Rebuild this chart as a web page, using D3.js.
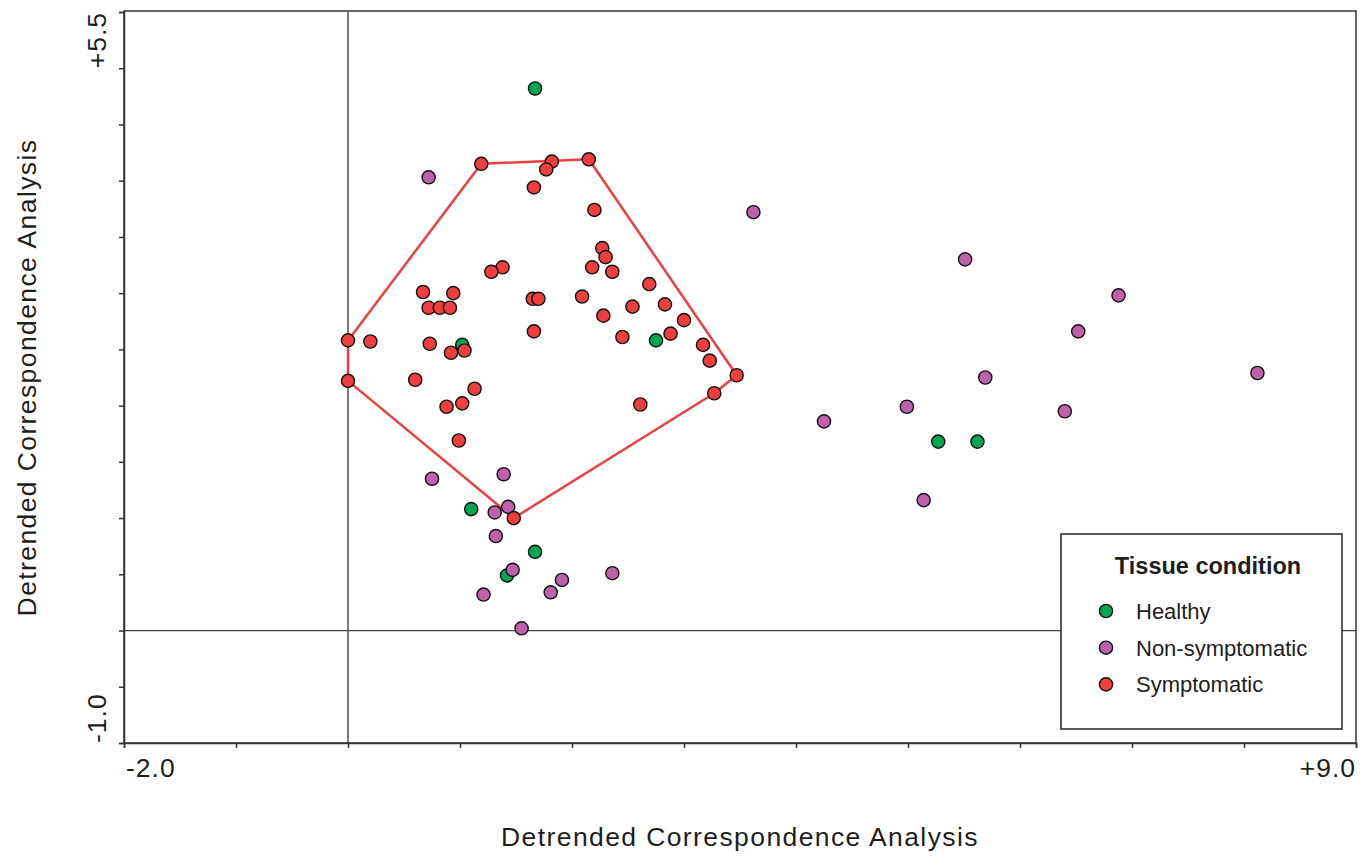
<!DOCTYPE html>
<html>
<head>
<meta charset="utf-8">
<script src="https://cdn.jsdelivr.net/npm/d3@7"></script>
<style>
  body { margin:0; background:#fff; }
  svg text { font-family: "Liberation Sans", Arial, sans-serif; fill:#1e1e1e; }
</style>
</head>
<body>
<svg id="chart" width="1360" height="857"></svg>
<script>
// DCA scores
var healthy = [
  [1.67,4.82],[1.02,2.54],[2.75,2.58],[1.10,1.08],[1.67,0.70],[1.42,0.49],[5.27,1.68],[5.62,1.68]
];
var nonSymptomatic = [
  [0.72,4.03],[0.75,1.35],[1.39,1.39],[1.31,1.05],[1.43,1.10],[1.32,0.84],[1.47,0.54],[1.91,0.45],
  [2.36,0.51],[1.21,0.32],[1.81,0.34],[1.55,0.02],[3.62,3.72],[5.51,3.30],[6.88,2.98],[6.52,2.66],
  [5.69,2.25],[8.12,2.29],[4.99,1.99],[4.25,1.86],[6.40,1.95],[5.14,1.16]
];
var symptomatic = [
  [1.19,4.15],[1.82,4.17],[1.77,4.10],[2.15,4.19],[1.66,3.94],[2.20,3.74],[2.27,3.40],[2.30,3.32],
  [2.18,3.23],[2.36,3.19],[1.38,3.23],[1.28,3.19],[0.67,3.01],[0.94,3.00],[0.72,2.87],[0.82,2.87],
  [0.91,2.87],[1.65,2.95],[1.70,2.95],[2.09,2.97],[2.28,2.80],[2.54,2.88],[1.66,2.66],[2.45,2.61],
  [0.00,2.58],[0.20,2.57],[0.73,2.55],[1.04,2.49],[0.92,2.47],[0.00,2.22],[0.60,2.23],[1.13,2.15],
  [0.88,1.99],[1.02,2.02],[0.99,1.69],[1.48,1.00],[2.69,3.08],[2.83,2.90],[3.00,2.76],[2.88,2.64],
  [3.17,2.54],[3.23,2.40],[3.47,2.27],[3.27,2.11],[2.61,2.01]
];
var groups = ["Healthy","Non-symptomatic","Symptomatic"];
var groupColors = ["#00a651","#bd62aa","#ee3e3e"];
var xTicks = [-2,-1,0,1,2,3,4,5,6,7,8,9];
var yTicks = [-1,-0.5,0,0.5,1,1.5,2,2.5,3,3.5,4,4.5,5,5.5];
var xTickLabels = ["-2.0","+9.0"];
var yTickLabels = ["-1.0","+5.5"];
var axisTitle = "Detrended Correspondence Analysis";
var legendTitle = "Tissue condition";

var svg = d3.select("#chart");
var plotL = 124, plotR = 1356, plotT = 12, plotB = 743;

var x = d3.scaleLinear().domain([-2, 9]).range([plotL, plotR]);
var y = d3.scaleLinear().domain([-1, 5.5]).range([plotB, plotT]);

// zero reference lines
svg.append("line").attr("x1", x(0)).attr("x2", x(0)).attr("y1", plotT).attr("y2", plotB)
  .attr("stroke", "#222").attr("stroke-width", 1.2);
svg.append("line").attr("x1", plotL).attr("x2", plotR).attr("y1", y(0)).attr("y2", y(0))
  .attr("stroke", "#444").attr("stroke-width", 1.2);

// frame
svg.append("rect").attr("x", plotL).attr("y", plotT - 1).attr("width", plotR - plotL).attr("height", plotB - plotT + 1)
  .attr("fill", "none").attr("stroke", "#333").attr("stroke-width", 1.5);

var xAxis = svg.append("g").attr("transform", "translate(0," + plotB + ")")
  .call(d3.axisBottom(x).tickValues(xTicks).tickSize(5).tickFormat(""));
var yAxis = svg.append("g").attr("transform", "translate(" + plotL + ",0)")
  .call(d3.axisLeft(y).tickValues(yTicks).tickSize(5).tickFormat(""));
[xAxis, yAxis].forEach(function(a){
  a.selectAll("path,line").attr("stroke", "#333").attr("stroke-width", 1.5);
});

// end labels only
svg.append("text").attr("x", x(-2) + 2).attr("y", 777).attr("font-size", 26.5)
  .attr("letter-spacing", 1).text(xTickLabels[0]);
svg.append("text").attr("x", x(9)).attr("y", 777).attr("font-size", 26.5).attr("text-anchor", "end")
  .attr("letter-spacing", 1).text(xTickLabels[1]);
svg.append("text").attr("transform", "translate(106," + y(-1) + ") rotate(-90)")
  .attr("font-size", 26.5).attr("letter-spacing", 1).text(yTickLabels[0]);
svg.append("text").attr("transform", "translate(106," + y(5.5) + ") rotate(-90)")
  .attr("font-size", 26.5).attr("text-anchor", "end").attr("letter-spacing", 1).text(yTickLabels[1]);

// axis titles
svg.append("text").attr("x", (plotL + plotR) / 2).attr("y", 846).attr("text-anchor", "middle")
  .attr("font-size", 26.5).attr("letter-spacing", 1.4).text(axisTitle);
svg.append("text").attr("transform", "translate(36," + ((plotT + plotB) / 2) + ") rotate(-90)")
  .attr("text-anchor", "middle").attr("font-size", 26.5).attr("letter-spacing", 1.4).text(axisTitle);

// convex hull around symptomatic samples
var hull = d3.polygonHull(symptomatic.map(function(d){ return [x(d[0]), y(d[1])]; }));
svg.append("path").attr("d", "M" + hull.join("L") + "Z")
  .attr("fill", "none").attr("stroke", "#ee3e3e").attr("stroke-width", 2.5)
  .attr("stroke-linejoin", "round");

var series = [healthy, nonSymptomatic, symptomatic];
series.forEach(function(data, i){
  svg.append("g").selectAll("circle")
    .data(data)
    .enter()
    .append("circle")
    .attr("cx", function(d){ return x(d[0]); })
    .attr("cy", function(d){ return y(d[1]); })
    .attr("r", 6.6)
    .attr("fill", groupColors[i])
    .attr("stroke", "#111")
    .attr("stroke-width", 1.4);
});

// legend
var lg = svg.append("g").attr("transform", "translate(1061,534)");
lg.append("rect").attr("width", 281).attr("height", 195).attr("fill", "#fff")
  .attr("stroke", "#222").attr("stroke-width", 1.5);
lg.append("text").attr("x", 147).attr("y", 40).attr("text-anchor", "middle")
  .attr("font-size", 23.5).attr("font-weight", "bold").text(legendTitle);
groups.forEach(function(g, i){
  var yy = 77 + i * 36.7;
  lg.append("circle").attr("cx", 45).attr("cy", yy).attr("r", 6.6)
    .attr("fill", groupColors[i]).attr("stroke", "#111").attr("stroke-width", 1.4);
  lg.append("text").attr("x", 75).attr("y", yy + 8).attr("font-size", 22).text(g);
});
</script>
</body>
</html>
